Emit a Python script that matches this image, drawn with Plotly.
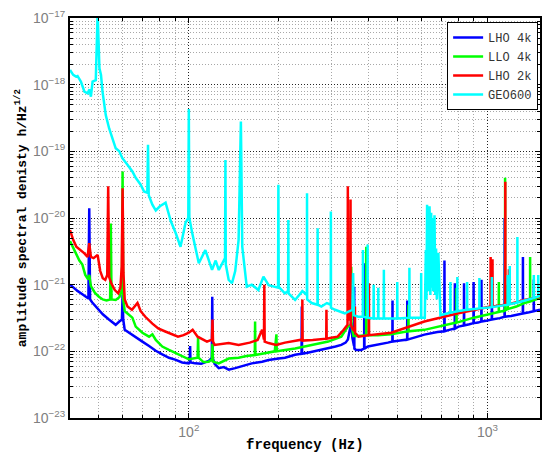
import math
import plotly.graph_objects as go

# ---------------- data (frequency Hz, amplitude spectral density) ----------------
LHO4K = [
    (40, 1.0e-21), (41, 9.0e-22), (42.5, 8.0e-22), (44, 7.2e-22), (45.5, 6.5e-22), (46.1, 6.2e-22),
    (46.4, 1.4e-20), (46.7, 6.0e-22), (47.5, 5.4e-22), (49, 4.6e-22), (51.5, 3.6e-22), (54, 3.0e-22),
    (56.9, 2.5e-22), (58.5, 2.8e-22), (59.7, 3.0e-22), (60, 7.0e-22), (60.3, 3.0e-22), (61, 2.1e-22),
    (63, 1.9e-22), (66.4, 1.6e-22), (69.9, 1.4e-22), (73.6, 1.2e-22), (77.5, 1.02e-22), (81.5, 9.0e-23),
    (85.8, 8.0e-23), (90, 7.5e-23), (95, 6.8e-23), (100, 6.6e-23), (100.7, 6.8e-23), (101, 1.2e-22),
    (101.3, 6.8e-23), (105, 6.6e-23), (110, 6.5e-23), (116.6, 7.2e-23), (119.4, 8.0e-23), (119.8, 6.6e-22),
    (120.2, 8.0e-23), (122, 6.5e-23), (126, 5.6e-23), (131, 5.8e-23), (136, 5.3e-23), (143, 5.6e-23),
    (150, 6.0e-23), (162.5, 6.6e-23), (176, 7.0e-23), (185, 7.4e-23), (200, 7.8e-23), (210, 8.0e-23),
    (227, 8.9e-23), (238.5, 9.2e-23), (239, 4.7e-22), (239.5, 9.2e-23), (250, 9.5e-23), (264, 1.0e-22),
    (280, 1.05e-22), (293, 1.1e-22), (310, 1.18e-22), (324, 1.25e-22), (335, 1.35e-22), (341, 1.5e-22),
    (346, 2.0e-22), (350, 2.7e-22), (353, 1.6e-22), (357.5, 1.2e-22), (358, 9.3e-22), (358.5, 1.1e-22),
    (363, 1.05e-22), (378, 1.05e-22), (386.5, 1.1e-22), (387, 2.1e-21), (387.5, 1.1e-22), (398, 1.18e-22),
    (430, 1.25e-22), (464, 1.35e-22), (480.5, 1.4e-22), (481, 5.8e-22), (481.5, 1.4e-22), (510, 1.45e-22),
    (538.5, 1.5e-22), (539, 5.8e-22), (539.5, 1.5e-22), (580, 1.65e-22), (615, 1.78e-22), (680, 1.95e-22),
    (717, 2.0e-22), (718, 2.3e-21), (719, 2.0e-22), (745, 2.1e-22), (777, 2.2e-22), (778, 1.05e-21),
    (779, 2.2e-22), (800, 2.35e-22), (834, 2.45e-22), (835, 1.05e-21), (836, 2.45e-22), (870, 2.55e-22),
    (898, 2.65e-22), (899, 1.1e-21), (900, 2.65e-22), (930, 2.7e-22), (954, 2.8e-22), (955, 1.18e-21),
    (956, 2.8e-22), (1000, 2.9e-22), (1034, 3.0e-22), (1035, 1.6e-21), (1036, 3.0e-22), (1100, 3.15e-22),
    (1141, 3.3e-22), (1142, 1.0e-20), (1143, 3.3e-22), (1200, 3.4e-22), (1250, 3.55e-22), (1314, 3.7e-22),
    (1315, 2.6e-21), (1316, 3.7e-22), (1380, 3.85e-22), (1429, 4.0e-22), (1430, 1.2e-21), (1431, 4.0e-22),
    (1500, 4.2e-22),
]

LLO4K = [
    (40, 4.5e-21), (41, 3.6e-21), (42, 3.0e-21), (43, 2.3e-21), (44, 2.0e-21), (45, 1.4e-21), (46, 1.2e-21),
    (46.4, 1.4e-21), (47, 9.5e-22), (48.5, 7.5e-22), (50, 6.6e-22), (51.5, 6.0e-22), (53, 5.8e-22),
    (54.5, 6.0e-22), (54.8, 8.3e-21), (55.1, 6.0e-22), (56.9, 5.9e-22), (58.5, 6.5e-22), (59.7, 8.3e-22),
    (60, 5.0e-20), (60.3, 6.0e-22), (61, 4.0e-22), (62.3, 3.7e-22), (64.7, 3.2e-22), (66.4, 2.35e-22),
    (69.9, 1.9e-22), (73.6, 1.66e-22), (75.5, 1.8e-22), (77.5, 1.48e-22), (81.5, 1.18e-22), (85.8, 1.05e-22),
    (90, 9.5e-23), (95, 8.3e-23), (100, 7.6e-23), (107, 8.0e-23), (107.4, 1.66e-22), (107.8, 8.0e-23),
    (112, 6.9e-23), (116.6, 7.0e-23), (119.5, 7.5e-23), (120, 1.3e-22), (120.5, 7.0e-23), (126, 6.6e-23),
    (136, 7.8e-23), (146.8, 8.0e-23), (156, 8.5e-23), (166.3, 8.8e-23), (166.7, 2.8e-22), (167.1, 8.8e-23),
    (176, 9.2e-23), (194, 1.0e-22), (196.5, 1.8e-22), (197, 1.0e-22), (227, 1.1e-22), (258, 1.24e-22),
    (293, 1.4e-22), (324, 1.66e-22), (341, 2.35e-22), (349.5, 2.5e-22), (350, 1.86e-21), (350.5, 2.5e-22),
    (356, 1.7e-22), (369, 1.7e-22), (392.5, 1.75e-22), (393, 3.7e-21), (393.5, 1.75e-22), (430, 1.75e-22),
    (476, 1.8e-22), (543.5, 2.0e-22), (544, 5.0e-22), (544.5, 2.0e-22), (615, 2.1e-22), (700, 2.4e-22),
    (787.5, 2.7e-22), (788, 8.9e-22), (788.5, 2.7e-22), (900, 3.2e-22), (1025, 3.7e-22), (1091.5, 3.9e-22),
    (1092, 1.1e-21), (1092.5, 3.9e-22), (1145.5, 4.1e-22), (1146, 4.0e-20), (1146.5, 4.1e-22),
    (1169.5, 4.3e-22), (1170, 1.0e-21), (1170.5, 4.3e-22), (1250, 4.7e-22), (1330, 5.3e-22),
    (1389.5, 5.6e-22), (1390, 2.6e-21), (1390.5, 5.6e-22), (1500, 6.3e-22),
]

LHO2K = [
    (40, 6.6e-21), (41, 4.7e-21), (42, 3.7e-21), (43.5, 3.3e-21), (44.7, 2.95e-21), (45.8, 2.6e-21),
    (46.4, 4.2e-21), (47, 2.6e-21), (48, 2.5e-21), (49.5, 2.8e-21), (50.5, 1.6e-21), (51.5, 1.25e-21),
    (52.5, 1.18e-21), (53.3, 1.4e-21), (53.7, 3.0e-20), (54.1, 1.3e-21), (55, 1.05e-21), (56.5, 8.3e-22),
    (58, 7.4e-22), (59, 9.0e-22), (59.6, 1.86e-21), (60, 2.8e-20), (60.4, 1.5e-21), (61, 6.0e-22),
    (62.3, 4.7e-22), (64.5, 4.2e-22), (67.3, 5.3e-22), (69, 4.0e-22), (71.5, 3.3e-22), (75.5, 2.6e-22),
    (79, 2.2e-22), (83, 2.0e-22), (87, 1.86e-22), (92, 1.66e-22), (96, 1.75e-22), (100, 1.9e-22),
    (103, 2.1e-22), (107, 1.66e-22), (115, 1.4e-22), (119.5, 1.5e-22), (120, 3.0e-22), (120.5, 1.4e-22),
    (122, 1.25e-22), (126, 1.28e-22), (136, 1.33e-22), (146.8, 1.25e-22), (160, 1.35e-22), (170, 1.48e-22),
    (176, 2.1e-22), (178.5, 1.5e-22), (179, 1.0e-21), (179.5, 1.4e-22), (185, 1.33e-22), (196, 1.25e-22),
    (210, 1.35e-22), (227, 1.45e-22), (239.5, 1.5e-22), (240, 6.0e-22), (240.5, 1.45e-22), (260, 1.48e-22),
    (288.5, 1.55e-22), (289, 4.2e-22), (289.5, 1.55e-22), (300, 1.6e-22), (315, 1.66e-22), (330, 2.1e-22),
    (340, 2.5e-22), (340.8, 3.0e-20), (341.6, 3.0e-22), (347.5, 3.0e-22), (348, 1.9e-20), (348.5, 2.5e-22),
    (355, 2.1e-22), (359.5, 2.0e-22), (360, 4.7e-22), (360.5, 1.9e-22), (370, 1.66e-22), (380, 1.7e-22),
    (400.5, 1.75e-22), (401, 1.05e-21), (401.5, 1.75e-22), (476, 1.9e-22), (615, 2.8e-22), (793, 3.7e-22),
    (1000, 4.5e-22), (1024.5, 4.7e-22), (1025, 2.6e-21), (1025.5, 4.7e-22), (1039.5, 4.7e-22),
    (1040, 2.4e-21), (1040.5, 4.7e-22), (1147.5, 5.0e-22), (1148, 3.5e-20), (1148.5, 5.0e-22),
    (1179.5, 5.1e-22), (1180, 1.7e-21), (1180.5, 5.1e-22), (1330, 5.9e-22), (1500, 6.6e-22),
]

GEO600 = [
    (40, 1.66e-18), (41, 1.4e-18), (41.9, 1.32e-18), (42.4, 1.35e-18), (43.5, 1.11e-18), (44.7, 7.85e-19),
    (45.8, 7.4e-19), (46.5, 8.5e-19), (47, 6.6e-19), (47.6, 1.11e-18), (48.8, 1.17e-18), (49.5, 1.2e-17),
    (50.2, 1.76e-18), (50.8, 1.4e-18), (51.4, 7.85e-19), (52.7, 3.5e-19), (54.1, 2.2e-19), (55.5, 1.58e-19),
    (56.9, 1.11e-19), (58.5, 1.0e-19), (59.9, 7.9e-20), (62.3, 6.3e-20), (64.7, 5.0e-20), (66.4, 4.0e-20),
    (69, 3.16e-20), (70.8, 2.5e-20), (72.6, 2.4e-20), (73, 1.25e-19), (73.4, 2.2e-20), (75.5, 1.58e-20),
    (77.5, 1.3e-20), (80, 1.5e-20), (83.6, 1.7e-20), (87, 9.0e-21), (90.3, 6.0e-21), (93.8, 3.7e-21),
    (97.5, 8.5e-21), (99.6, 1.0e-20), (100, 4.3e-19), (100.4, 1.0e-20), (102.6, 6.0e-21), (108, 2.1e-21),
    (113.6, 3.3e-21), (119.6, 1.67e-21), (123, 2.3e-21), (126, 1.66e-21), (129, 2.0e-21), (132.2, 2.5e-21),
    (132.6, 7.4e-20), (133, 2.0e-21), (136, 1.18e-21), (139.5, 1.05e-21), (143, 1.6e-21), (146.8, 4.7e-21),
    (149.4, 2.8e-19), (151, 3.7e-21), (156.3, 9.3e-22), (162.5, 1.0e-21), (171, 8.3e-22), (177.8, 1.32e-21),
    (185, 9.8e-22), (199, 9.0e-22), (199.5, 3.16e-20), (200, 9.3e-22), (209.7, 7.4e-22), (215, 8.0e-22),
    (215.4, 9.3e-21), (215.8, 7.4e-22), (227, 5.9e-22), (240, 8.0e-22), (248.5, 7.0e-22), (248.8, 2.35e-20),
    (249.1, 6.0e-22), (258, 5.3e-22), (269.7, 5.0e-22), (270, 7.0e-21), (270.3, 5.0e-22), (278, 4.7e-22),
    (290, 5.3e-22), (298.7, 5.0e-22), (299, 1.25e-20), (299.3, 4.5e-22), (309, 4.2e-22), (333, 3.7e-22),
    (353, 4.2e-22), (355, 1.5e-21), (357, 3.5e-22), (369, 3.3e-22), (382.5, 3.3e-22), (383, 3.3e-21),
    (383.5, 3.3e-22), (396.5, 3.2e-22), (397, 4.0e-21), (397.5, 3.2e-22), (415.5, 3.1e-22), (416, 1.0e-21),
    (416.5, 3.1e-22), (430.5, 3.1e-22), (431, 9.0e-22), (431.5, 3.1e-22), (449.5, 3.1e-22), (450, 1.67e-21),
    (450.5, 3.1e-22), (498.5, 3.1e-22), (499, 1.1e-21), (499.5, 3.1e-22), (547.5, 3.2e-22), (548, 1.8e-21),
    (548.5, 3.2e-22), (599.5, 3.2e-22), (600, 1.5e-21), (600.5, 3.2e-22), (617, 3.2e-22), (619, 2.0e-21),
    (620.5, 5.0e-22), (622, 3.3e-21), (625, 6.0e-22), (628, 1.58e-20), (631, 9.0e-22), (634, 6.0e-21),
    (637, 8.0e-22), (640, 1.5e-20), (644, 7.0e-22), (648, 1.2e-20), (651, 9.0e-22), (655, 1.0e-20),
    (658, 8.0e-22), (662, 4.0e-21), (665, 1.1e-20), (669, 7.0e-22), (673, 3.5e-21), (677, 6.0e-22),
    (685, 3.0e-21), (696, 3.5e-22), (751.5, 3.8e-22),
    (752, 1.1e-21), (752.5, 3.8e-22), (792.5, 4.0e-22), (793, 1.3e-21), (793.5, 4.0e-22), (854.5, 4.2e-22),
    (855, 1.1e-21), (855.5, 4.2e-22), (939.5, 4.4e-22), (940, 1.26e-21), (940.5, 4.4e-22), (1034.5, 4.6e-22),
    (1035, 1.3e-21), (1035.5, 4.6e-22), (1169.5, 5.0e-22), (1170, 1.4e-21), (1170.5, 5.0e-22),
    (1187.5, 5.1e-22), (1188, 1.9e-21), (1188.5, 5.1e-22), (1259.5, 5.4e-22), (1260, 5.2e-21),
    (1260.5, 5.4e-22), (1429.5, 6.3e-22), (1430, 1.4e-21), (1430.5, 6.3e-22), (1478, 6.6e-22),
    (1480, 1.4e-21), (1482, 6.7e-22), (1500, 6.8e-22),
]

SERIES_NAMES = ["LHO 4k", "LLO 4k", "LHO 2k", "GEO600"]
SERIES_COLORS = ["#0000ff", "#00ff00", "#ff0000", "#00ffff"]

X_TICKS = [100, 1000]
X_TICK_LABELS = ["10<sup>2</sup>", "10<sup>3</sup>"]
Y_TICKS = [1e-23, 1e-22, 1e-21, 1e-20, 1e-19, 1e-18, 1e-17]
Y_TICK_LABELS = ["10<sup>\u221223</sup>", "10<sup>\u221222</sup>", "10<sup>\u221221</sup>",
                 "10<sup>\u221220</sup>", "10<sup>\u221219</sup>", "10<sup>\u221218</sup>",
                 "10<sup>\u221217</sup>"]
X_MINOR = [40, 50, 60, 70, 80, 90, 200, 300, 400, 500, 600, 700, 800, 900]
Y_MINOR = [m * 10.0 ** e for e in range(-23, -17) for m in range(2, 10)]

X_RANGE = (40, 1500)
Y_RANGE = (1e-23, 1e-17)

# ---------------- figure ----------------
fig = go.Figure()
for name, data, color in zip(SERIES_NAMES, [LHO4K, LLO4K, LHO2K, GEO600], SERIES_COLORS):
    f = [p[0] for p in data]
    a = [p[1] for p in data]
    fig.add_trace(go.Scatter(x=f, y=a, mode="lines", name=name,
                             line=dict(color=color, width=2.5)))

tickfont = dict(family="Liberation Sans, Arial, sans-serif", size=14, color="#808080")
common = dict(
    type="log", showline=True, linecolor="black", linewidth=2, mirror="ticks",
    ticks="inside", ticklen=5, tickcolor="black",
    showgrid=True, gridcolor="#222222", griddash="1px,2px", gridwidth=1,
    tickfont=tickfont, zeroline=False,
)
minor_common = dict(tickmode="array", ticks="inside", ticklen=3, tickcolor="black",
                    showgrid=True, gridcolor="#a8a8a8", griddash="1px,2px", gridwidth=1)

fig.update_xaxes(
    range=[math.log10(X_RANGE[0]), math.log10(X_RANGE[1])],
    tickmode="array", tickvals=X_TICKS, ticktext=X_TICK_LABELS,
    minor=dict(tickvals=X_MINOR, **minor_common),
    **common,
)
fig.update_yaxes(
    range=[math.log10(Y_RANGE[0]), math.log10(Y_RANGE[1])],
    tickmode="array", tickvals=Y_TICKS, ticktext=Y_TICK_LABELS,
    minor=dict(tickvals=Y_MINOR, **minor_common),
    **common,
)

fig.update_layout(
    width=543, height=452,
    margin=dict(l=70, r=1, t=18, b=34),
    paper_bgcolor="white", plot_bgcolor="white",
    showlegend=True,
    legend=dict(x=0.996, y=0.99, xanchor="right", yanchor="top",
                bgcolor="white", bordercolor="black", borderwidth=1,
                font=dict(family="Liberation Mono, Courier New, monospace", size=12, color="#333333"),
                tracegroupgap=0, itemwidth=30),
    annotations=[
        dict(text="<b>amplitude spectral denisty h/Hz<sup>1/2</sup></b>",
             xref="paper", yref="paper", x=-0.106, y=0.5, textangle=-90,
             xanchor="center", yanchor="middle", showarrow=False,
             font=dict(family="Liberation Mono, Courier New, monospace", size=13, color="black")),
        dict(text="<b>frequency (Hz)</b>",
             xref="paper", yref="paper", x=0.5, y=-0.068,
             xanchor="center", yanchor="middle", showarrow=False,
             font=dict(family="Liberation Mono, Courier New, monospace", size=14, color="black")),
    ],
)

fig.write_html("out.html", config={"displayModeBar": False},
               post_script="document.body.style.margin='0px';document.body.style.overflow='hidden';")
